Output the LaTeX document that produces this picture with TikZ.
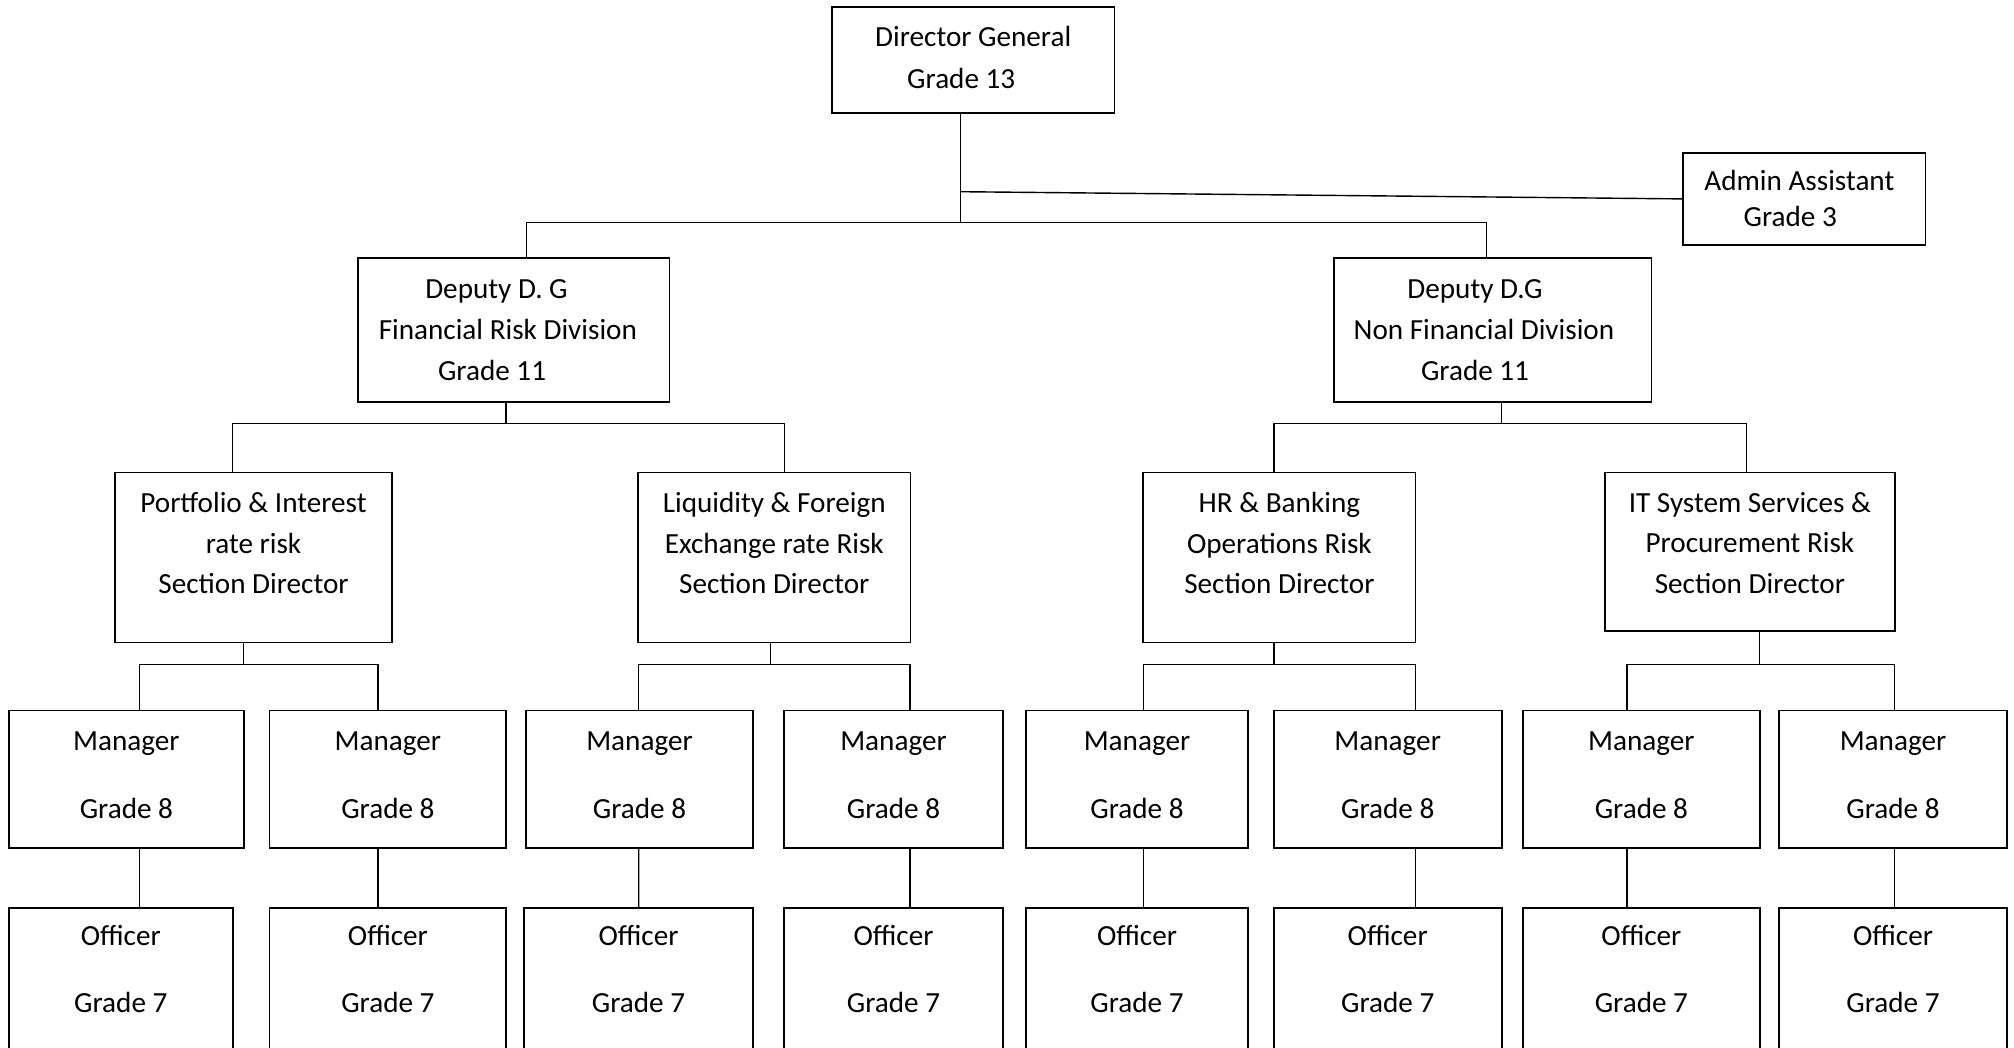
\documentclass[tikz,border=0pt]{standalone}
\usepackage{fontspec}
\setmainfont{Carlito}
\usetikzlibrary{calc}
\newcommand{\vpad}[1]{\rule[-#1]{0pt}{#1}}
\begin{document}
\begin{tikzpicture}[x=0.01cm,y=-0.01cm,
    box/.style={draw,line width=0.5pt,align=center,inner sep=0pt,font=\fontsize{8.3}{11.6}\selectfont},
    sec/.style={box,minimum height=1.70cm},
    mgr/.style={box,minimum height=1.371cm,font=\fontsize{8.3}{19.3}\selectfont},
    off/.style={box,anchor=north,inner ysep=4.9pt,font=\fontsize{8.3}{19.1}\selectfont},
    link/.style={line width=0.4pt}]
    \clip (0,0) rectangle (2014,1048);
    \node[box,minimum width=2.824cm,minimum height=1.066cm,font=\fontsize{8.3}{11.9}\selectfont] (dg) at (973.2,60) {Director General\\Grade 13\kern6.8pt\vpad{1.4pt}};
    \node[box,minimum width=2.42cm,minimum height=0.923cm,font=\fontsize{8.3}{10.2}\selectfont] (adm) at (1804.3,198.9) {Admin Assistant\kern2.8pt\\Grade 3\kern8pt};
    \node[box,minimum width=3.115cm,minimum height=1.44cm] (ddgA) at (513.7,330.3) {Deputy D. G\kern9.8pt\\Financial Risk Division\kern3.3pt\\Grade 11\kern12.3pt};
    \node[box,minimum width=3.176cm,minimum height=1.44cm] (ddgB) at (1492.6,330.3) {Deputy D.G\kern10pt\\Non Financial Division\kern4.9pt\\Grade 11\kern10pt};

    \node[sec,minimum width=2.764cm] (secA) at (253.5,557.5) {Portfolio \& Interest\\rate risk\\Section Director\vpad{8.3pt}};
    \node[sec,minimum width=2.72cm] (secB) at (774.3,557.5) {Liquidity \& Foreign\\Exchange rate Risk\\Section Director\vpad{8.3pt}};
    \node[sec,minimum width=2.72cm] (secC) at (1279.4,557.5) {HR \& Banking\\Operations Risk\\Section Director\vpad{8.3pt}};
    \node[sec,minimum width=2.897cm,minimum height=1.587cm] (secD) at (1749.9,551.9) {IT System Services \&\\Procurement Risk\\Section Director\vpad{5.1pt}};

    \node[mgr,minimum width=2.347cm] (mgrA) at (126.4,779.2) {Manager\\Grade 8\vpad{2.3pt}};
    \node[mgr,minimum width=2.367cm] (mgrB) at (387.9,779.2) {Manager\\Grade 8\vpad{2.3pt}};
    \node[mgr,minimum width=2.276cm] (mgrC) at (639.5,779.2) {Manager\\Grade 8\vpad{2.3pt}};
    \node[mgr,minimum width=2.19cm] (mgrD) at (893.5,779.2) {Manager\\Grade 8\vpad{2.3pt}};
    \node[mgr,minimum width=2.214cm] (mgrE) at (1137,779.2) {Manager\\Grade 8\vpad{2.3pt}};
    \node[mgr,minimum width=2.28cm] (mgrF) at (1387.7,779.2) {Manager\\Grade 8\vpad{2.3pt}};
    \node[mgr,minimum width=2.367cm] (mgrG) at (1641.4,779.2) {Manager\\Grade 8\vpad{2.3pt}};
    \node[mgr,minimum width=2.28cm] (mgrH) at (1893,779.2) {Manager\\Grade 8\vpad{2.3pt}};

    \node[off,minimum width=2.236cm] (offA) at (120.8,907.2) {Officer\\Grade 7\vpad{30pt}};
    \node[off,minimum width=2.367cm] (offB) at (387.9,907.2) {Officer\\Grade 7\vpad{30pt}};
    \node[off,minimum width=2.296cm] (offC) at (638.5,907.2) {Officer\\Grade 7\vpad{30pt}};
    \node[off,minimum width=2.19cm] (offD) at (893.5,907.2) {Officer\\Grade 7\vpad{30pt}};
    \node[off,minimum width=2.214cm] (offE) at (1137,907.2) {Officer\\Grade 7\vpad{30pt}};
    \node[off,minimum width=2.28cm] (offF) at (1387.7,907.2) {Officer\\Grade 7\vpad{30pt}};
    \node[off,minimum width=2.367cm] (offG) at (1641.4,907.2) {Officer\\Grade 7\vpad{30pt}};
    \node[off,minimum width=2.28cm] (offH) at (1893,907.2) {Officer\\Grade 7\vpad{30pt}};

    \coordinate (bus0) at (960.7,222.7);
    \coordinate (tee) at (960.7,191.7);
    \draw[link] (dg.south -| bus0) -- (bus0);
    \draw[link] (tee) -- (adm.west);
    \draw[link] ($(ddgA.north)+(12.5,0)$) |- (bus0) -| ($(ddgB.north)+(-6.2,0)$);

    \coordinate (bus1) at (506,423.5);
    \coordinate (bus2) at (1501.3,423.5);
    \draw[link] (ddgA.south -| bus1) -- (bus1);
    \draw[link] ($(secA.north)+(-21.2,0)$) |- (bus1) -| ($(secB.north)+(9.9,0)$);
    \draw[link] (ddgB.south -| bus2) -- (bus2);
    \draw[link] ($(secC.north)+(-5.6,0)$) |- (bus2) -| ($(secD.north)+(-3.5,0)$);

    \coordinate (bus3) at (243.3,664.5);
    \coordinate (bus4) at (770.7,664.5);
    \coordinate (bus5) at (1274,664.5);
    \coordinate (bus6) at (1759.7,664.5);
    \draw[link] (secA.south -| bus3) -- (bus3);
    \draw[link] ($(mgrA.north)+(13.3,0)$) |- (bus3) -| ($(mgrB.north)+(-9.9,0)$);
    \draw[link] (secB.south -| bus4) -- (bus4);
    \draw[link] ($(mgrC.north)+(-0.8,0)$) |- (bus4) -| ($(mgrD.north)+(16.5,0)$);
    \draw[link] (secC.south -| bus5) -- (bus5);
    \draw[link] ($(mgrE.north)+(6.7,0)$) |- (bus5) -| ($(mgrF.north)+(27.6,0)$);
    \draw[link] (secD.south -| bus6) -- (bus6);
    \draw[link] ($(mgrG.north)+(-14.4,0)$) |- (bus6) -| ($(mgrH.north)+(1.3,0)$);

    \draw[link] ($(mgrA.south)+(13.3,0)$) -- ($(offA.north)+(18.9,0)$);
    \draw[link] ($(mgrB.south)+(-9.9,0)$) -- ($(offB.north)+(-9.9,0)$);
    \draw[link] ($(mgrC.south)+(-0.8,0)$) -- ($(offC.north)+(0.2,0)$);
    \draw[link] ($(mgrD.south)+(16.5,0)$) -- ($(offD.north)+(16.5,0)$);
    \draw[link] ($(mgrE.south)+(6.7,0)$) -- ($(offE.north)+(6.7,0)$);
    \draw[link] ($(mgrF.south)+(27.6,0)$) -- ($(offF.north)+(27.6,0)$);
    \draw[link] ($(mgrG.south)+(-14.4,0)$) -- ($(offG.north)+(-14.4,0)$);
    \draw[link] ($(mgrH.south)+(1.3,0)$) -- ($(offH.north)+(1.3,0)$);
\end{tikzpicture}
\end{document}
